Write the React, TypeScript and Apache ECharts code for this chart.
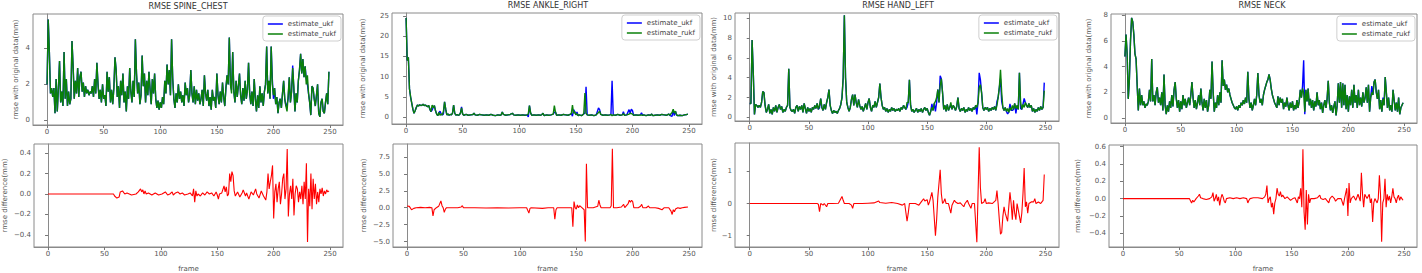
import React, { useEffect, useRef } from "react";
import * as echarts from "echarts";

// ---------- DATA ----------
const jointTitles = ["RMSE SPINE_CHEST", "RMSE ANKLE_RIGHT", "RMSE HAND_LEFT", "RMSE NECK"];
const seriesNames = ["estimate_ukf", "estimate_rukf"];
const xTicks = [0, 50, 100, 150, 200, 250];
const topTicks = [[0, 2, 4], [0, 5, 10, 15, 20, 25], [0, 2, 4, 6, 8, 10], [0, 2, 4, 6, 8]];
const diffTicks = [[-0.4, -0.2, 0, 0.2, 0.4], [-5, -2.5, 0, 2.5, 5, 7.5], [-1, 0, 1], [-0.4, -0.2, 0, 0.2, 0.4, 0.6]];
const topRanges = [[-0.25, 5.9], [-1.65, 25.7], [-0.37, 10.53], [-0.38, 8.1]];
const diffRanges = [[-0.52, 0.49], [-5.8, 9.4], [-1.35, 1.88], [-0.56, 0.62]];

// SPINE_CHEST, rukf per frame
const spineRukf = [
  2.0, 5.6, 3.8, 1.5, 1.8, 1.3, 1.8, 0.4, 2.3, 0.5,
  1.8, 3.3, 1.0, 1.6, 0.8, 3.8, 1.2, 2.3, 0.8, 1.6,
  0.9, 1.2, 4.4, 3.0, 1.2, 2.2, 1.5, 2.9, 1.3, 2.4,
  2.7, 1.6, 2.1, 1.3, 1.9, 1.5, 1.7, 1.4, 1.6, 1.5,
  1.9, 1.3, 2.3, 1.5, 3.2, 2.0, 1.2, 1.7, 1.0, 2.0,
  1.2, 1.4, 0.8, 2.7, 1.6, 2.4, 1.0, 1.7, 0.9, 1.8,
  3.5, 2.8, 1.3, 1.9, 0.7, 2.2, 1.4, 2.6, 1.0, 1.6,
  0.5, 1.9, 1.2, 2.9, 1.6, 1.0, 2.2, 1.3, 4.5, 2.6,
  1.5, 2.1, 0.9, 1.4, 3.6, 1.9, 2.6, 1.0, 2.2, 1.4,
  2.7, 1.7, 0.9, 2.3, 1.5, 2.6, 1.2, 0.7, 1.1, 0.6,
  1.0, 0.7, 1.3, 0.9, 2.2, 1.5, 3.1, 2.0, 2.8, 1.4,
  4.5, 2.3, 1.2, 0.7, 1.5, 1.0, 2.0, 1.2, 1.6, 1.0,
  1.4, 0.8, 2.1, 1.4, 1.8, 1.0, 1.4, 2.8, 1.5, 1.0,
  1.9, 0.9, 1.7, 1.1, 1.5, 0.9, 1.2, 1.7, 0.8, 2.5,
  1.5, 1.1, 1.7, 0.8, 1.3, 0.6, 1.7, 1.1, 1.3, 0.7,
  2.6, 1.4, 0.9, 1.6, 1.0, 2.1, 1.3, 0.8, 1.8, 2.5,
  2.0, 4.6, 2.0, 1.5, 3.8, 1.6, 1.0, 2.2, 1.3, 1.9,
  2.6, 1.4, 0.9, 1.8, 1.1, 2.2, 1.2, 1.7, 3.2, 1.5,
  0.9, 1.6, 0.8, 2.3, 1.2, 0.5, 1.4, 0.7, 1.9, 1.0,
  1.5, 0.8, 1.6, 2.0, 4.1, 1.5, 2.2, 1.2, 4.1, 2.0,
  1.4, 1.8, 0.9, 1.3, 0.4, 1.0, 1.2, 0.7, 1.5, 2.2,
  1.2, 0.8, 0.5, 1.4, 2.4, 1.0, 1.6, 2.9, 1.9, 0.5,
  1.5, 1.0, 2.2, 2.8, 3.7, 2.6, 3.4, 2.4, 3.0, 2.0,
  2.5, 1.5, 1.0, 0.3, 1.9, 1.8, 1.2, 0.8, 1.4, 2.0,
  0.4, 0.2, 1.0, 1.2, 0.5, 0.4, 1.0, 1.5, 0.9, 2.7,
];
// frames where ukf differs from rukf: [frame, value]
const spineUkfOverrides = [[163, 1.7], [199, 2.3], [200, 1.2], [212, 0.9], [213, 1.2], [217, 3.05], [218, 1.7], [229, 2.3], [230, 2.0]];
const spineDiff = [
  [0, 0], [58, 0], [59, -0.02], [61, -0.04], [63, -0.03], [64, 0.02], [66, 0.03], [68, 0.0], [70, 0.01], [74, -0.01], [78, 0.0], [80, 0.02],
  [82, 0.05], [83, 0.02], [84, 0.04], [85, 0.0], [86, 0.03], [87, 0.0], [89, 0.01], [92, -0.01], [95, 0.01], [98, -0.01], [101, 0.0],
  [104, 0.02], [106, -0.01], [108, 0.0], [110, 0.02], [111, -0.01], [113, 0.01], [115, 0.02], [117, 0.0], [119, 0.01], [121, -0.01],
  [124, 0.0], [126, 0.01], [128, -0.02], [129, 0.05], [130, -0.08], [131, 0.03], [132, -0.02], [133, 0.0], [135, -0.02], [137, 0.01],
  [139, -0.01], [141, 0.02], [143, 0.0], [145, 0.01], [147, -0.02], [149, 0.02], [150, -0.01], [151, -0.05], [152, 0.0], [154, 0.01],
  [156, 0.08], [157, 0.02], [158, 0.07], [159, -0.02], [160, 0.0], [161, 0.2], [162, 0.12], [163, 0.22], [164, 0.18], [165, 0.03],
  [166, -0.02], [168, 0.02], [170, -0.03], [172, 0.01], [173, 0.04], [175, -0.02], [176, 0.01], [178, -0.05], [180, 0.02], [182, -0.01],
  [184, 0.05], [185, 0.0], [187, -0.04], [189, 0.03], [191, -0.02], [193, -0.06], [194, 0.02], [195, 0.2], [196, 0.05], [197, 0.12],
  [198, 0.18], [199, 0.28], [200, -0.24], [201, 0.02], [202, 0.1], [203, -0.08], [204, 0.05], [205, 0.12], [206, -0.1], [207, 0.0],
  [208, 0.15], [209, 0.2], [210, -0.05], [211, 0.05], [212, 0.44], [213, -0.22], [214, 0.0], [215, 0.08], [216, -0.05], [217, 0.15],
  [218, -0.21], [219, 0.0], [220, 0.08], [221, 0.05], [222, -0.08], [223, 0.02], [224, -0.05], [225, 0.08], [226, -0.1], [227, 0.12],
  [228, -0.05], [229, 0.3], [230, -0.47], [231, 0.05], [232, -0.12], [233, 0.2], [234, -0.15], [235, 0.15], [236, -0.05], [237, 0.1],
  [238, -0.1], [239, 0.02], [240, -0.08], [241, 0.05], [242, 0.0], [243, 0.06], [244, -0.02], [245, 0.03], [246, 0.0], [247, 0.04],
  [248, 0.02], [249, 0.03],
];

// ANKLE_RIGHT, rukf as [frame, value]
const ankleRukf = [
  [0, 24.5], [1, 14.0], [2, 14.8], [3, 7.0], [4, 5.0], [5, 3.5], [6, 2.0], [7, 1.0], [8, 1.6], [9, 2.4], [10, 3.0], [11, 2.8], [12, 3.1],
  [13, 2.9], [14, 3.0], [15, 3.2], [16, 2.9], [17, 3.0], [18, 2.8], [19, 2.6], [20, 2.9], [21, 2.0], [22, 1.4], [23, 3.0], [24, 2.4],
  [25, 2.9], [26, 1.6], [27, 0.8], [28, 0.4], [29, 1.2], [30, 0.5], [31, 0.8], [32, 0.6], [33, 1.5], [34, 3.8], [35, 2.0], [36, 0.6],
  [37, 0.8], [38, 0.5], [39, 0.7], [40, 0.6], [41, 1.0], [42, 3.0], [43, 1.0], [44, 0.5], [45, 0.7], [46, 0.5], [47, 0.6], [48, 1.0],
  [49, 2.3], [50, 0.8], [51, 0.5], [53, 0.7], [55, 0.5], [57, 0.6], [59, 0.7], [60, 1.0], [61, 0.6], [63, 0.5], [65, 0.7], [67, 0.6],
  [69, 0.5], [71, 0.6], [73, 0.5], [75, 0.7], [77, 0.5], [79, 0.4], [81, 0.6], [83, 0.5], [84, 0.6], [85, 1.3], [86, 0.7], [88, 0.5],
  [90, 0.6], [92, 0.7], [94, 1.0], [95, 0.6], [97, 0.5], [99, 0.6], [101, 0.5], [103, 0.6], [105, 0.5], [107, 0.6], [108, 0.9],
  [109, 2.9], [110, 1.1], [111, 0.5], [113, 0.6], [115, 0.5], [117, 0.6], [119, 0.5], [120, 0.7], [121, 1.0], [122, 0.4], [124, 0.6],
  [126, 0.5], [128, 0.6], [130, 0.8], [131, 2.9], [132, 1.3], [133, 0.5], [135, 0.6], [137, 0.5], [139, 0.7], [141, 0.6], [143, 0.5],
  [145, 0.7], [146, 0.9], [147, 3.0], [148, 1.0], [149, 1.4], [150, 0.6], [151, 0.9], [152, 0.4], [153, 0.6], [155, 0.4], [156, 0.6],
  [157, 0.9], [158, 6.0], [159, 1.0], [160, 0.6], [162, 0.5], [164, 0.6], [166, 0.4], [168, 0.6], [170, 1.2], [171, 1.5], [172, 0.7],
  [174, 0.5], [176, 0.6], [178, 0.5], [180, 0.6], [181, 0.7], [182, 0.4], [183, 0.6], [185, 0.5], [187, 0.7], [189, 0.5], [191, 0.6],
  [192, 0.9], [193, 0.5], [195, 0.6], [197, 0.8], [198, 1.0], [199, 0.9], [200, 0.8], [201, 0.5], [203, 0.6], [205, 0.5], [207, 0.6],
  [209, 0.5], [210, 0.6], [212, 0.4], [214, 0.6], [216, 0.5], [217, 0.8], [218, 0.4], [220, 0.5], [222, 0.6], [224, 0.5], [226, 0.7],
  [228, 0.6], [230, 0.5], [232, 0.8], [233, 0.5], [235, 1.2], [236, 2.0], [237, 1.0], [238, 1.5], [239, 0.6], [240, 0.4], [242, 0.5],
  [244, 0.4], [246, 0.6], [248, 0.7], [249, 0.8],
];
const ankleUkfOverrides = [
  [23, 1.8], [30, 1.5], [33, 0.8], [49, 2.6], [108, 0.1], [131, 1.2], [147, 0.3], [148, 1.9], [151, 1.3], [158, 1.0], [159, 7.5],
  [170, 2.3], [171, 1.9], [182, 9.0], [192, 1.4], [197, 1.9], [199, 2.0], [200, 1.7], [208, 1.1], [235, 0.2], [236, 1.7], [237, 0.4],
];
const ankleDiff = [
  [0, 0.25], [2, 0.2], [4, -0.3], [6, -0.1], [8, 0.0], [12, 0.05], [16, 0.0], [20, 0.05], [22, 0.0], [23, -1.2], [24, -0.3], [26, 0.0],
  [28, 0.2], [30, 1.0], [31, 0.3], [32, 0.0], [33, -0.7], [34, -0.2], [35, 0.0], [40, 0.0], [45, 0.0], [48, 0.1], [49, 0.3], [50, 0.0],
  [60, 0.0], [70, -0.05], [80, 0.0], [90, -0.05], [100, 0.0], [106, 0.0], [108, -0.8], [109, -0.1], [110, 0.0], [120, -0.1], [125, 0.0],
  [130, 0.0], [131, -1.7], [132, -0.3], [133, 0.0], [140, 0.0], [146, 0.0], [147, -2.8], [148, 0.9], [149, 0.0], [150, -0.2], [151, 0.4],
  [152, 0.0], [153, 0.3], [155, 0.0], [157, -0.3], [158, -5.0], [159, 6.5], [160, 0.0], [165, 0.0], [169, 0.2], [170, 1.1], [171, 0.4],
  [172, 0.0], [176, 0.0], [180, 0.0], [181, 0.3], [182, 8.7], [183, 0.0], [186, 0.0], [190, 0.1], [192, 0.5], [193, 0.0], [196, 0.6],
  [197, 1.1], [198, 0.8], [199, 1.1], [200, 0.9], [201, 0.0], [205, 0.0], [207, 0.2], [208, 0.5], [209, 0.0], [212, 0.0], [214, 0.25],
  [215, 0.0], [220, 0.0], [223, -0.1], [226, -0.3], [228, 0.0], [232, 0.0], [234, -0.5], [235, -1.0], [236, -0.3], [237, -0.6],
  [238, -0.2], [240, 0.0], [242, -0.1], [244, 0.0], [246, 0.05], [249, 0.1],
];

// HAND_LEFT, rukf per frame
const handRukf = [
  1.4, 1.4, 7.8, 4.5, 0.3, 1.3, 1.2, 1.0, 1.2, 1.0,
  1.5, 2.6, 2.5, 1.2, 0.5, 0.8, 1.3, 0.4, 0.8, 0.3,
  1.0, 0.6, 1.2, 0.5, 1.0, 1.3, 0.8, 1.1, 0.5, 0.8,
  0.6, 1.0, 1.2, 4.9, 1.0, 0.7, 0.6, 0.8, 0.4, 1.0,
  1.2, 0.6, 1.1, 0.8, 1.2, 0.5, 1.4, 0.9, 0.4, 1.0,
  0.6, 0.9, 0.5, 1.0, 0.8, 1.2, 0.9, 1.4, 0.8, 1.2,
  1.9, 1.0, 0.7, 1.3, 0.8, 1.5, 2.0, 2.8, 1.2, 0.7,
  0.4, 0.7, 0.5, 0.6, 0.4, 0.7, 0.9, 1.3, 2.0, 4.0,
  10.3, 4.0, 1.5, 1.0, 0.6, 1.0, 1.8, 2.3, 1.2, 2.3,
  1.5, 1.0, 1.8, 1.2, 0.8, 1.1, 0.6, 1.0, 1.4, 0.8,
  1.5, 1.9, 1.0, 0.6, 1.2, 1.0, 1.6, 1.0, 1.5, 2.0,
  3.4, 2.0, 1.2, 0.8, 1.0, 0.6, 0.9, 0.5, 0.8, 0.6,
  1.0, 0.7, 0.9, 0.6, 0.8, 0.7, 0.9, 0.6, 1.0, 0.8,
  1.2, 1.0, 0.8, 1.5, 1.5, 3.8, 1.2, 0.6, 0.8, 0.5,
  0.7, 0.9, 0.5, 0.8, 0.6, 0.9, 0.5, 0.8, 1.0, 0.7,
  0.9, 0.5, 0.2, 0.6, 1.0, 0.7, 1.4, 1.6, 2.0, 2.8,
  1.5, 3.2, 3.9, 2.5, 0.8, 1.2, 0.6, 1.3, 0.7, 1.0,
  1.5, 0.8, 1.2, 1.0, 0.7, 1.1, 2.0, 0.9, 0.6, 0.9,
  0.7, 1.0, 0.5, 0.8, 0.6, 1.0, 0.7, 0.9, 0.6, 1.0,
  0.8, 1.2, 1.0, 1.5, 3.0, 3.3, 2.5, 1.0, 0.7, 1.0,
  0.8, 1.0, 0.6, 0.9, 0.7, 1.0, 0.8, 1.1, 0.7, 1.2,
  2.0, 3.0, 4.8, 2.5, 1.0, 0.7, 1.0, 0.6, 0.9, 0.5,
  1.0, 0.7, 1.2, 0.8, 1.4, 0.9, 1.2, 0.8, 4.5, 1.5,
  0.8, 1.3, 1.0, 1.5, 1.2, 1.0, 1.4, 1.0, 1.2, 0.6,
  0.9, 0.5, 0.8, 0.6, 1.0, 0.7, 1.1, 0.8, 1.0, 2.7,
];
const handUkfOverrides = [
  [59, 0.95], [133, 1.0], [154, 1.35], [157, 0.6], [158, 1.5], [161, 4.2], [170, 1.2], [192, 0.3], [194, 4.5], [195, 3.8],
  [209, 1.6], [212, 3.9], [213, 1.6], [218, 0.35], [220, 1.35], [222, 0.7], [225, 0.4], [229, 0.9], [232, 1.9], [249, 3.5],
];
const handDiff = [
  [0, 0], [57, 0], [58, -0.02], [59, -0.25], [60, 0.0], [62, -0.05], [63, 0.0], [65, -0.1], [66, 0.0], [70, 0.0], [75, 0.01], [78, 0.22],
  [79, 0.1], [80, 0.0], [84, 0.0], [86, -0.05], [87, -0.15], [88, 0.0], [95, 0.0], [100, 0.01], [105, 0.02], [109, 0.08], [110, 0.03],
  [115, 0.01], [120, 0.03], [125, 0.0], [129, -0.05], [131, 0.0], [133, -0.55], [134, -0.3], [135, 0.0], [140, 0.0], [143, -0.05],
  [145, 0.05], [147, 0.15], [148, 0.08], [150, 0.12], [151, -0.05], [152, 0.05], [154, 0.35], [155, 0.1], [157, -1.0], [158, -0.5],
  [159, 0.2], [161, 1.05], [162, 0.3], [163, 0.0], [164, 0.05], [165, 0.15], [166, 0.0], [168, 0.0], [170, -0.3], [171, -0.05],
  [173, 0.1], [174, 0.05], [176, 0.0], [178, 0.02], [181, -0.1], [182, 0.0], [184, 0.1], [185, 0.0], [187, -0.15], [188, 0.0],
  [190, 0.0], [192, -1.2], [194, 1.75], [195, 0.5], [196, 0.0], [198, 0.05], [199, 0.15], [200, 0.0], [202, 0.02], [205, 0.0],
  [208, 0.1], [209, 0.4], [210, 0.0], [211, -0.5], [212, -0.95], [213, -0.9], [214, -0.4], [215, -0.1], [216, -0.3], [218, -0.55],
  [219, -0.1], [220, 0.35], [221, 0.0], [222, -0.5], [223, 0.1], [224, -0.3], [225, -0.5], [226, 0.0], [227, -0.2], [228, -0.4],
  [229, -0.6], [230, -0.3], [231, 0.3], [232, 1.1], [233, -0.1], [234, 0.05], [235, -0.3], [236, 0.0], [238, 0.05], [240, 0.05],
  [241, 0.15], [242, 0.0], [244, 0.05], [246, 0.0], [247, 0.05], [248, 0.1], [249, 0.9],
];

// NECK, rukf per frame
const neckRukf = [
  4.8, 6.5, 5.0, 1.5, 3.0, 6.0, 7.8, 7.5, 6.5, 5.0,
  4.6, 2.5, 0.6, 2.3, 1.0, 1.8, 1.0, 1.3, 0.8, 1.1,
  1.0, 1.3, 2.2, 1.3, 4.6, 1.3, 1.8, 1.0, 2.0, 2.4,
  1.2, 1.6, 1.0, 2.0, 0.6, 3.4, 1.0, 0.3, 1.0, 0.5,
  1.3, 0.8, 1.8, 0.9, 2.2, 2.8, 1.5, 0.8, 1.4, 0.5,
  1.3, 0.7, 1.8, 1.0, 1.5, 0.8, 1.2, 1.6, 1.0, 1.8,
  2.8, 1.6, 0.8, 1.4, 0.7, 1.2, 1.8, 1.0, 2.3, 1.2,
  0.6, 1.5, 0.8, 1.4, 0.5, 1.0, 2.2, 1.5, 4.4, 2.0,
  0.5, 1.2, 0.8, 1.8, 1.0, 2.0, 1.2, 4.5, 2.5, 3.0,
  2.2, 2.6, 2.0, 2.3, 1.8, 1.5, 1.2, 1.0, 0.8, 0.7,
  0.9, 0.6, 1.0, 0.8, 1.2, 1.0, 1.4, 1.1, 1.6, 1.2,
  3.6, 1.5, 0.8, 1.2, 0.6, 1.0, 1.5, 1.0, 1.8, 3.5,
  1.8, 1.2, 1.5, 1.0, 1.8, 2.2, 2.5, 2.8, 3.0, 3.4,
  3.0, 2.3, 1.8, 1.5, 1.2, 1.0, 0.8, 1.7, 1.0, 1.6,
  1.2, 1.5, 0.7, 1.2, 0.9, 1.6, 1.0, 0.6, 1.2, 0.8,
  1.3, 0.6, 1.0, 0.7, 1.4, 0.8, 1.3, 2.2, 1.6, 2.3,
  2.0, 0.5, 2.2, 1.3, 2.3, 1.0, 1.5, 0.8, 1.4, 0.6,
  1.3, 0.9, 2.0, 1.0, 1.4, 0.7, 1.2, 0.4, 1.0, 1.4,
  0.8, 1.5, 2.9, 1.2, 0.6, 1.0, 0.4, 0.9, 1.3, 0.2,
  1.0, 2.7, 1.2, 2.8, 0.8, 2.7, 1.0, 2.6, 0.7, 1.8,
  0.5, 1.7, 1.0, 2.2, 0.8, 2.6, 1.2, 1.8, 0.8, 2.2,
  1.0, 1.6, 0.9, 2.0, 1.2, 1.6, 2.4, 1.2, 2.6, 0.5,
  1.6, 2.0, 1.8, 2.8, 3.0, 2.0, 1.5, 2.2, 0.7, 1.4,
  0.5, 1.5, 1.0, 3.2, 2.0, 0.8, 1.6, 0.6, 1.0, 0.5,
  2.2, 1.4, 0.6, 1.2, 0.5, 1.6, 0.3, 0.8, 1.0, 1.2,
];
const neckUkfOverrides = [[159, 2.5], [160, 4.5], [161, 0.3], [221, 2.5], [231, 1.6]];
const neckDiff = [
  [0, 0], [59, 0], [61, -0.05], [62, -0.02], [63, -0.04], [65, 0.0], [67, 0.03], [68, 0.05], [69, 0.01], [71, 0.0], [74, -0.01],
  [77, 0.0], [79, 0.02], [80, 0.07], [81, -0.03], [82, 0.0], [83, 0.05], [84, -0.03], [85, 0.02], [86, -0.08], [87, 0.0], [88, 0.05],
  [89, 0.02], [90, -0.03], [91, -0.05], [92, 0.0], [95, 0.01], [98, 0.0], [101, 0.01], [104, 0.0], [107, 0.01], [110, 0.0],
  [111, -0.05], [112, -0.02], [113, 0.0], [116, 0.01], [120, 0.01], [124, 0.0], [126, 0.02], [127, 0.05], [128, 0.15], [129, -0.05],
  [130, 0.0], [131, 0.02], [132, -0.1], [133, -0.05], [134, -0.18], [135, -0.05], [136, 0.0], [137, 0.12], [138, 0.05], [139, 0.03],
  [140, 0.08], [141, 0.02], [142, 0.04], [144, 0.0], [146, 0.02], [149, -0.02], [151, 0.0], [153, 0.01], [155, -0.05], [156, 0.02],
  [157, 0.0], [158, 0.12], [159, -0.1], [160, 0.57], [161, -0.15], [162, -0.36], [163, 0.1], [164, -0.3], [165, 0.05], [166, -0.05],
  [167, 0.0], [170, 0.0], [173, 0.01], [175, 0.04], [176, 0.0], [178, -0.01], [180, 0.0], [183, -0.05], [184, 0.0], [186, 0.03],
  [188, 0.0], [189, -0.03], [191, 0.0], [194, 0.0], [196, -0.08], [197, 0.0], [199, 0.12], [200, -0.2], [201, 0.18], [202, -0.05],
  [203, 0.0], [205, 0.03], [207, -0.02], [209, 0.05], [211, -0.03], [212, 0.3], [213, 0.05], [214, -0.1], [215, 0.05], [217, 0.0],
  [219, 0.05], [220, -0.05], [221, 0.0], [222, -0.27], [223, -0.05], [224, 0.0], [226, -0.05], [227, 0.0], [228, 0.27], [229, 0.05],
  [230, -0.5], [231, -0.05], [232, 0.0], [233, 0.23], [234, -0.1], [235, 0.05], [236, -0.02], [237, 0.03], [238, -0.05], [239, 0.02],
  [240, 0.12], [241, 0.02], [242, 0.0], [243, -0.05], [244, 0.01], [245, 0.04], [246, -0.02], [247, 0.02], [248, 0.0], [249, -0.02],
];

// ---------- helpers ----------
const toPairs = (arr: number[]) => arr.map((v, i) => [i, v]);
const withOverrides = (pairs: number[][], ov: number[][]) => {
  const m = new Map<number, number>();
  pairs.forEach((p) => m.set(p[0], p[1]));
  ov.forEach((p) => m.set(p[0], p[1]));
  return Array.from(m.entries()).sort((a, b) => a[0] - b[0]).map(([f, v]) => [f, v]);
};

const rukfData = [toPairs(spineRukf), ankleRukf, toPairs(handRukf), toPairs(neckRukf)];
const ukfData = [
  withOverrides(toPairs(spineRukf), spineUkfOverrides),
  withOverrides(ankleRukf, ankleUkfOverrides),
  withOverrides(toPairs(handRukf), handUkfOverrides),
  withOverrides(toPairs(neckRukf), neckUkfOverrides),
];
const diffData = [spineDiff, ankleDiff, handDiff, neckDiff];

// ---------- layout (positions in px) ----------
const topGrids = [
  { left: 33, top: 14, width: 310, height: 111 },
  { left: 392, top: 13, width: 310, height: 111 },
  { left: 735, top: 13, width: 324, height: 108 },
  { left: 1111, top: 14, width: 306, height: 109 },
];
const botGrids = [
  { left: 33, top: 144, width: 310, height: 110 },
  { left: 393, top: 144, width: 309, height: 110 },
  { left: 735, top: 143, width: 324, height: 111 },
  { left: 1109, top: 145, width: 308, height: 109 },
];
const titlePos = [[188, 6], [548, 5], [898, 5], [1262, 5]];
const topNameGap = [14, 26, 18, 19];
const botNameGap = [26, 26, 18, 28];
const FONT = "DejaVu Sans";
const MINUS = "\u2212";

const fmt = (dec: number) => (v: number) => {
  const s = Math.abs(v).toFixed(dec);
  return v < -1e-9 ? MINUS + s : s;
};

function buildOption() {
  const grid: any[] = [];
  const xAxis: any[] = [];
  const yAxis: any[] = [];
  const series: any[] = [];
  const legend: any[] = [];
  const graphic: any[] = [];
  for (let i = 0; i < 4; i++) {
    for (let r = 0; r < 2; r++) {
      const g = r === 0 ? topGrids[i] : botGrids[i];
      const gi = i * 2 + r;
      grid.push({ ...g, show: true, borderColor: "#8a8a8a", borderWidth: 1, backgroundColor: "transparent", containLabel: false });
      xAxis.push({
        type: "value", gridIndex: gi, min: -12.45, max: 261.45,
        splitLine: { show: false },
        axisLine: { show: true, onZero: false, lineStyle: { color: "#8a8a8a" } },
        axisTick: { show: true, length: 3, customValues: xTicks, lineStyle: { color: "#777" } },
        axisLabel: { customValues: xTicks, fontSize: 7, color: "#555", margin: 3, fontFamily: FONT },
        name: r === 1 ? "frame" : "", nameLocation: "middle", nameGap: 18,
        nameTextStyle: { fontSize: 7, color: "#555", fontFamily: FONT },
      });
      const ticks = r === 0 ? topTicks[i] : diffTicks[i];
      const range = r === 0 ? topRanges[i] : diffRanges[i];
      const dec = r === 1 && i !== 2 ? 1 : 0;
      yAxis.push({
        type: "value", gridIndex: gi, min: range[0], max: range[1],
        splitLine: { show: false },
        axisLine: { show: true, lineStyle: { color: "#8a8a8a" } },
        axisTick: { show: true, length: 3, customValues: ticks, lineStyle: { color: "#777" } },
        axisLabel: { customValues: ticks, fontSize: 7, color: "#555", margin: 3, fontFamily: FONT, formatter: fmt(dec) },
        name: r === 0 ? "rmse with original data(mm)" : "rmse difference(mm)",
        nameLocation: "middle", nameRotate: 90, nameGap: r === 0 ? topNameGap[i] : botNameGap[i],
        nameTextStyle: { fontSize: 7, color: "#555", fontFamily: FONT },
      });
    }
    series.push({
      type: "line", name: seriesNames[0], xAxisIndex: i * 2, yAxisIndex: i * 2, data: ukfData[i],
      showSymbol: false, symbol: "none", lineStyle: { color: "#0000ff", width: 1.4 }, itemStyle: { color: "#0000ff" }, z: 2,
    });
    series.push({
      type: "line", name: seriesNames[1], xAxisIndex: i * 2, yAxisIndex: i * 2, data: rukfData[i],
      showSymbol: false, symbol: "none", lineStyle: { color: "#0a800a", width: 1.4 }, itemStyle: { color: "#0a800a" }, z: 3,
    });
    series.push({
      type: "line", name: "difference", xAxisIndex: i * 2 + 1, yAxisIndex: i * 2 + 1, data: diffData[i],
      showSymbol: false, symbol: "none", lineStyle: { color: "#ff0000", width: 1.1 }, itemStyle: { color: "#ff0000" }, z: 2,
    });
    const tg = topGrids[i];
    legend.push({
      data: seriesNames, orient: "vertical",
      right: 1422 - (tg.left + tg.width) + 2, top: tg.top + 2,
      icon: "rect", itemWidth: 15, itemHeight: 1.5, itemGap: 2,
      padding: [4, 5, 3, 5], borderColor: "#cfcfcf", borderWidth: 1, borderRadius: 3, backgroundColor: "#ffffff",
      textStyle: { fontSize: 7, color: "#444", fontFamily: FONT, lineHeight: 8, padding: [0, 0, 0, 0] },
      selectedMode: false,
    });
    graphic.push({
      type: "text", x: titlePos[i][0], y: titlePos[i][1],
      style: { text: jointTitles[i], fontSize: 8, fill: "#333", fontFamily: FONT, align: "center", verticalAlign: "middle" },
    });
  }
  return { animation: false, backgroundColor: "#ffffff", grid, xAxis, yAxis, series, legend, graphic };
}

export default function App() {
  const ref = useRef<HTMLDivElement>(null);
  useEffect(() => {
    document.body.style.margin = "0";
    if (!ref.current) return;
    const chart = echarts.init(ref.current, undefined, { renderer: "svg" });
    chart.setOption(buildOption() as any);
    return () => chart.dispose();
  }, []);
  return <div ref={ref} style={{ width: 1422, height: 273, position: "absolute", left: 0, top: 0 }} />;
}
